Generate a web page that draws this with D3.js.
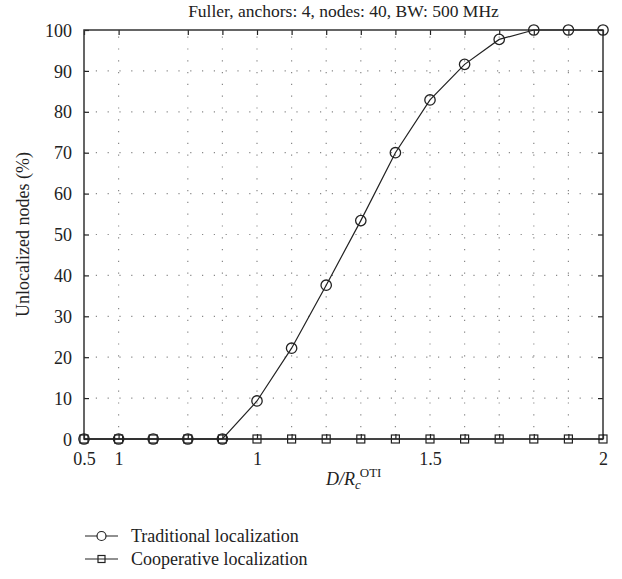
<!DOCTYPE html>
<html>
<head>
<meta charset="utf-8">
<script src="https://cdn.jsdelivr.net/npm/d3@7"></script>
<style>
  body { margin: 0; background: #fff; }
  svg { display: block; font-family: "Liberation Serif", "Times New Roman", serif; }
</style>
</head>
<body>
<svg id="chart" width="622" height="579"></svg>
<script>
const xValues = [0.5, 0.6, 0.7, 0.8, 0.9, 1.0, 1.1, 1.2, 1.3, 1.4, 1.5, 1.6, 1.7, 1.8, 1.9, 2.0];
const traditional = [0, 0, 0, 0, 0, 9.3, 22.2, 37.6, 53.4, 70.0, 82.9, 91.6, 97.7, 100, 100, 100];
const cooperative = [0, 0, 0, 0, 0, 0, 0, 0, 0, 0, 0, 0, 0, 0, 0, 0];
const xTicks = [0.5, 0.6, 0.8, 0.9, 1.0, 1.1, 1.2, 1.3, 1.4, 1.5, 1.6, 1.7, 1.8, 1.9, 2.0];
const xTickLabels = ["0.5", "1", "", "", "1", "", "", "", "", "1.5", "", "", "", "", "2"];
const yTicks = [0, 10, 20, 30, 40, 50, 60, 70, 80, 90, 100];
const titleText = "Fuller, anchors: 4, nodes: 40, BW: 500 MHz";
const yLabel = "Unlocalized nodes (%)";
const legendLabels = ["Traditional localization", "Cooperative localization"];

const svg = d3.select("#chart");
const L = 84, R = 603, T = 30, B = 439;
const x = d3.scaleLinear().domain([0.5, 2.0]).range([L, R]);
const y = d3.scaleLinear().domain([0, 100]).range([B, T]);
const ink = "#222";
const FS = 18;

// grid
const grid = svg.append("g").attr("stroke", "#888").attr("stroke-width", 1.2).attr("stroke-dasharray", "1.2,10.6");
grid.selectAll("line.v").data(xTicks.filter(d => d > 0.5 && d < 2.0)).join("line")
  .attr("x1", d => x(d)).attr("x2", d => x(d)).attr("y1", B).attr("y2", T);
grid.selectAll("line.h").data(yTicks.filter(d => d > 0 && d < 100)).join("line")
  .attr("x1", L).attr("x2", R).attr("y1", d => y(d)).attr("y2", d => y(d));

// axes
const xAxisB = d3.axisBottom(x).tickValues(xTicks).tickSize(-5)
  .tickFormat((d, i) => xTickLabels[i]);
const xAxisT = d3.axisTop(x).tickValues(xTicks).tickSize(-5).tickFormat("");
const yAxisL = d3.axisLeft(y).tickValues(yTicks).tickSize(-5).tickPadding(12);
const yAxisR = d3.axisRight(y).tickValues(yTicks).tickSize(-5).tickFormat("");

function style(g) {
  g.select(".domain").remove();
  g.selectAll(".tick line").attr("stroke", ink).attr("stroke-width", 1.2);
  g.selectAll(".tick text").attr("fill", "#222").attr("font-size", FS)
    .attr("font-family", "Liberation Serif, serif");
  g.selectAll(".tick text").filter(function () { return this.textContent === ""; }).remove();
}
const gxb = svg.append("g").attr("transform", `translate(0,${B})`).call(xAxisB).call(style);
gxb.selectAll(".tick text").attr("y", 26).attr("dy", 0);
svg.append("g").attr("transform", `translate(0,${T})`).call(xAxisT).call(style);
const gyl = svg.append("g").attr("transform", `translate(${L},0)`).call(yAxisL).call(style);
gyl.selectAll(".tick text").attr("dy", "0.34em");
svg.append("g").attr("transform", `translate(${R},0)`).call(yAxisR).call(style);

svg.append("rect").attr("x", L).attr("y", T).attr("width", R - L).attr("height", B - T)
  .attr("fill", "none").attr("stroke", "#333").attr("stroke-width", 1.5);

// series
const line = d3.line().x((d, i) => x(xValues[i])).y(d => y(d));
const series = [
  { values: cooperative, shape: "square" },
  { values: traditional, shape: "circle" }
];
series.forEach(s => {
  svg.append("path").datum(s.values).attr("d", line)
    .attr("fill", "none").attr("stroke", ink).attr("stroke-width", 1.2);
});
function drawMarker(g, shape, cx, cy) {
  if (shape === "circle") {
    g.append("circle").attr("cx", cx).attr("cy", cy).attr("r", 5.2)
      .attr("fill", "none").attr("stroke", ink).attr("stroke-width", 1.3);
  } else {
    g.append("rect").attr("x", cx - 4).attr("y", cy - 4).attr("width", 8).attr("height", 8)
      .attr("fill", "none").attr("stroke", ink).attr("stroke-width", 1.2);
  }
}
series.forEach(s => {
  const g = svg.append("g");
  s.values.forEach((v, i) => drawMarker(g, s.shape, x(xValues[i]), y(v)));
});

// title
svg.append("text").attr("x", (L + R) / 2).attr("y", 17).attr("text-anchor", "middle")
  .attr("font-size", 17.5).attr("fill", "#222").text(titleText);

// y label
svg.append("text").attr("transform", `translate(29,${(T + B) / 2}) rotate(-90)`)
  .attr("text-anchor", "middle").attr("font-size", FS).attr("fill", "#222").text(yLabel);

// x label
const xl = svg.append("text").attr("x", 326).attr("y", 485).attr("font-size", FS).attr("fill", "#222");
xl.append("tspan").attr("font-style", "italic").text("D/R");
xl.append("tspan").attr("font-style", "italic").attr("font-size", 13).attr("dy", 4).text("c");
xl.append("tspan").attr("font-size", 13).attr("dx", -1).attr("dy", -12).text("OTI");

// legend
legendLabels.forEach((lab, i) => {
  const ly = 536 + i * 23;
  const g = svg.append("g");
  g.append("line").attr("x1", 85).attr("x2", 118).attr("y1", ly).attr("y2", ly)
    .attr("stroke", ink).attr("stroke-width", 1.2);
  if (i === 0) {
    g.append("circle").attr("cx", 101.5).attr("cy", ly).attr("r", 4.5)
      .attr("fill", "#fff").attr("stroke", ink).attr("stroke-width", 1.2);
  } else {
    g.append("rect").attr("x", 98).attr("y", ly - 3.5).attr("width", 7).attr("height", 7)
      .attr("fill", "none").attr("stroke", ink).attr("stroke-width", 1.2);
  }
  g.append("text").attr("x", 131).attr("y", ly + 5.5).attr("font-size", FS).attr("fill", "#222").text(lab);
});
</script>
</body>
</html>
